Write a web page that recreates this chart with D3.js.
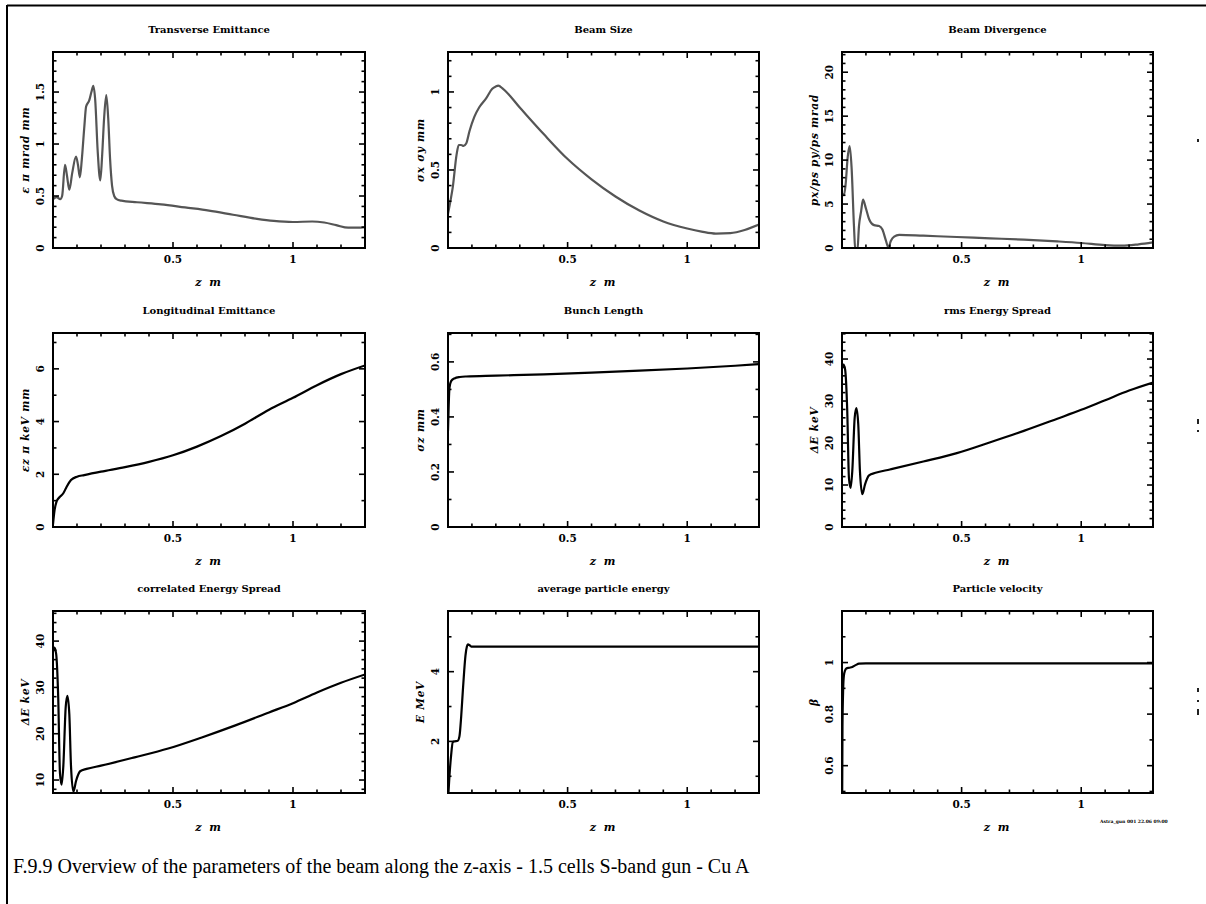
<!DOCTYPE html>
<html><head><meta charset="utf-8">
<script src="https://cdn.jsdelivr.net/npm/d3@7"></script>
<style>body{margin:0;background:#fff}svg{display:block}</style>
</head><body>
<svg id="c" width="1206" height="904"></svg>
<script>
// ---- data ----
const titles = ["Transverse Emittance","Beam Size","Beam Divergence","Longitudinal Emittance","Bunch Length","rms Energy Spread","correlated Energy Spread","average particle energy","Particle velocity"];
const yLabels = ["\u03b5 \u03c0 mrad mm","\u03c3x \u03c3y mm","px/ps  py/ps mrad","\u03b5z \u03c0 keV mm","\u03c3z mm","\u0394E keV","\u0394E keV","E MeV","\u03b2"];
const xLabel = "z m";
const xTicks = [0.5, 1];
const caption = "F.9.9 Overview of the parameters of the beam along the z-axis - 1.5 cells S-band gun - Cu A";
const stamp = "Astra_gun 001  22.06  09:00";

const zTE = [0,0.015,0.03,0.038,0.05,0.058,0.068,0.08,0.096,0.104,0.112,0.12,0.13,0.138,0.151,0.16,0.168,0.176,0.186,0.197,0.205,0.213,0.222,0.23,0.238,0.246,0.255,0.265,0.285,0.35,0.45,0.55,0.65,0.75,0.85,0.92,1.0,1.08,1.13,1.18,1.23,1.27,1.3];
const vTE = [0.47,0.49,0.47,0.5,0.8,0.7,0.56,0.72,0.88,0.8,0.68,0.85,1.15,1.36,1.42,1.5,1.56,1.42,0.94,0.65,0.9,1.25,1.47,1.25,0.85,0.6,0.5,0.47,0.455,0.44,0.42,0.39,0.36,0.32,0.28,0.26,0.25,0.255,0.245,0.22,0.195,0.195,0.2];

const zBS = [0,0.01,0.02,0.036,0.045,0.055,0.065,0.076,0.09,0.11,0.13,0.16,0.185,0.2,0.21,0.23,0.3,0.4,0.5,0.6,0.7,0.8,0.9,1.0,1.06,1.12,1.18,1.24,1.3];
const vBS = [0.22,0.3,0.39,0.6,0.66,0.66,0.655,0.67,0.75,0.84,0.9,0.96,1.02,1.035,1.04,1.02,0.9,0.73,0.57,0.44,0.33,0.24,0.17,0.125,0.105,0.092,0.095,0.115,0.15];

const zBD = [0,0.008,0.015,0.024,0.032,0.04,0.05,0.056,0.064,0.071,0.08,0.088,0.099,0.113,0.134,0.155,0.169,0.183,0.194,0.204,0.218,0.239,0.34,0.48,0.62,0.76,0.9,1.0,1.1,1.17,1.24,1.3];
const vBD = [6.2,6.0,7.2,10.4,11.6,9.2,2.5,-0.4,-0.4,2.5,4.2,5.5,4.6,3.3,2.6,2.5,2.1,0.9,0.05,0.8,1.3,1.5,1.4,1.25,1.1,0.95,0.75,0.57,0.32,0.26,0.42,0.64];

const zLE = [0,0.006,0.015,0.027,0.043,0.057,0.075,0.1,0.13,0.2,0.3,0.4,0.5,0.6,0.7,0.8,0.9,1.0,1.1,1.2,1.3];
const vLE = [0.1,0.6,0.97,1.13,1.28,1.53,1.78,1.91,1.97,2.1,2.27,2.47,2.72,3.05,3.45,3.92,4.45,4.9,5.38,5.8,6.13];

const zBL = [0,0.003,0.006,0.013,0.027,0.05,0.076,0.2,0.4,0.6,0.8,1.0,1.2,1.3];
const vBL = [0.35,0.445,0.505,0.53,0.54,0.545,0.547,0.55,0.555,0.561,0.568,0.576,0.586,0.592];

const zES = [0,0.006,0.013,0.022,0.029,0.036,0.043,0.053,0.06,0.068,0.075,0.085,0.096,0.113,0.14,0.2,0.34,0.48,0.62,0.76,0.9,1.0,1.1,1.2,1.3];
const vRMS = [37.9,38.7,37.5,27.5,11.7,9.3,13.3,26,28.3,24.4,13.3,7.8,10.1,12.3,12.9,13.7,15.6,17.6,20.2,22.9,25.8,27.9,30.2,32.5,34.4];
const vCOR = [37.8,38.6,37.3,27.3,11.5,9.0,13,25.8,28.2,24.2,13,7.5,9.8,11.9,12.4,13.1,14.9,16.8,19.2,21.8,24.6,26.6,28.9,31.0,32.8];

const zEN = [0,0.006,0.013,0.02,0.027,0.041,0.048,0.055,0.062,0.068,0.073,0.079,0.083,0.09,0.097,0.11,0.5,1.0,1.3];
const vEN = [0.3,1.0,1.6,1.98,2.0,2.02,2.15,2.7,3.45,4.05,4.46,4.72,4.78,4.76,4.72,4.72,4.72,4.72,4.72];

const zPV = [0,0.002,0.005,0.008,0.013,0.018,0.03,0.043,0.057,0.071,0.1,0.5,1.0,1.3];
const vPV = [0.3,0.75,0.9,0.95,0.97,0.977,0.98,0.983,0.99,0.996,0.997,0.997,0.997,0.997];

const yDomains = [[0,1.885],[0,1.256],[0,22.3],[0,7.36],[0,0.705],[0,46.2],[7.2,46.5],[0.52,5.74],[0.494,1.2]];
const yMajor = [[0,0.5,1,1.5],[0,0.5,1],[0,5,10,15,20],[0,2,4,6],[0,0.2,0.4,0.6],[0,10,20,30,40],[10,20,30,40],[2,4],[0.6,0.8,1]];
const yMinorStep = [0.1,0.1,1,1,0.1,2,2,1,0.1];
const series = [[zTE,vTE],[zBS,vBS],[zBD,vBD],[zLE,vLE],[zBL,vBL],[zES,vRMS],[zES,vCOR],[zEN,vEN],[zPV,vPV]];

// ---- layout ----
const colX = [53, 448, 842];
const colW = [312, 311, 311];
const rowY = [52, 333, 611];
const rowH = [196, 194, 182];

const svg = d3.select("#c");
svg.append("rect").attr("width",1206).attr("height",904).attr("fill","#fff");
svg.append("line").attr("x1",7).attr("x2",1206).attr("y1",5.5).attr("y2",5.5).attr("stroke","#000").attr("stroke-width",2);
svg.append("line").attr("x1",7).attr("x2",7).attr("y1",5).attr("y2",904).attr("stroke","#000").attr("stroke-width",2);

const defs = svg.append("defs");
const serif = "'DejaVu Serif', serif";

for (let i = 0; i < 9; i++) {
  const r = Math.floor(i/3), c = i%3;
  const x0 = colX[c], y0 = rowY[r], w = colW[c], h = rowH[r];
  const xs = d3.scaleLinear().domain([0,1.3]).range([x0, x0+w]);
  const ys = d3.scaleLinear().domain(yDomains[i]).range([y0+h, y0]);
  const g = svg.append("g");
  const col = r === 0 ? "#555" : "#000";

  defs.append("clipPath").attr("id","cp"+i).append("rect")
    .attr("x",x0).attr("y",y0).attr("width",w).attr("height",h);

  g.append("text").attr("x",x0+w/2).attr("y",y0-19).attr("text-anchor","middle")
    .attr("font-family",serif).attr("font-weight","bold").attr("font-size",10)
    .text(titles[i]);

  const [zz, vv] = series[i];
  const pts = zz.map((z,k)=>[z, vv[k]]);
  const line = d3.line().x(d=>xs(d[0])).y(d=>ys(d[1])).curve(d3.curveMonotoneX);
  g.append("path").attr("d", line(pts)).attr("fill","none").attr("stroke",col)
    .attr("stroke-width",2.2).attr("clip-path","url(#cp"+i+")");

  const xMinor = d3.range(0.1, 1.3, 0.1).map(v=>+v.toFixed(2));
  xMinor.forEach(v=>{
    const major = Math.abs(v-0.5)<1e-6 || Math.abs(v-1)<1e-6;
    const L = major ? 6 : 3.5;
    g.append("line").attr("x1",xs(v)).attr("x2",xs(v)).attr("y1",y0+h).attr("y2",y0+h-L).attr("stroke","#000").attr("stroke-width",1.6);
    g.append("line").attr("x1",xs(v)).attr("x2",xs(v)).attr("y1",y0).attr("y2",y0+L).attr("stroke","#000").attr("stroke-width",1.6);
  });
  const [d0,d1] = yDomains[i];
  const st = yMinorStep[i];
  const yMin = d3.range(Math.ceil(d0/st-1e-9)*st, d1, st).map(v=>+v.toFixed(4));
  yMin.forEach(v=>{
    const major = yMajor[i].some(m=>Math.abs(m-v)<1e-6);
    const L = major ? 6 : 3.5;
    g.append("line").attr("x1",x0).attr("x2",x0+L).attr("y1",ys(v)).attr("y2",ys(v)).attr("stroke","#000").attr("stroke-width",1.6);
    g.append("line").attr("x1",x0+w).attr("x2",x0+w-L).attr("y1",ys(v)).attr("y2",ys(v)).attr("stroke","#000").attr("stroke-width",1.6);
  });

  g.append("rect").attr("x",x0).attr("y",y0).attr("width",w).attr("height",h)
    .attr("fill","none").attr("stroke","#000").attr("stroke-width",2);

  xTicks.forEach(v=>{
    g.append("text").attr("x",xs(v)).attr("y",y0+h+15).attr("text-anchor","middle")
      .attr("font-family",serif).attr("font-weight","bold").attr("font-size",10.5).text(String(v));
  });
  yMajor[i].forEach(v=>{
    g.append("text").attr("transform",`translate(${x0-9},${ys(v)}) rotate(-90)`)
      .attr("text-anchor","middle").attr("font-family",serif).attr("font-weight","bold")
      .attr("font-size",10.5).text(String(v));
  });
  g.append("text").attr("x",x0+w/2).attr("y",y0+h+38).attr("text-anchor","middle")
    .attr("font-family",serif).attr("font-weight","bold").attr("font-style","italic")
    .attr("font-size",11).attr("letter-spacing",2).text(xLabel);
  g.append("text").attr("transform",`translate(${x0-24},${y0+h/2}) rotate(-90)`)
    .attr("text-anchor","middle").attr("font-family",serif).attr("font-weight","bold")
    .attr("font-style","italic").attr("font-size",10.5).attr("letter-spacing",0.8).text(yLabels[i]);
}

[[1197,139,2,3],[1197,419,2,5],[1197,430,2,2],[1197,688,2,4],[1197,700,2,2],[1197,709,2,6]].forEach(d=>{
  svg.append("rect").attr("x",d[0]).attr("y",d[1]).attr("width",d[2]).attr("height",d[3]).attr("fill","#222");
});

svg.append("text").attr("x",1100).attr("y",823).attr("font-family",serif).attr("font-weight","bold")
  .attr("font-size",4.5).text(stamp);

svg.append("text").attr("x",13).attr("y",873).attr("font-family","'Liberation Serif', 'Times New Roman', serif")
  .attr("font-size",20).text(caption);
</script>
</body></html>
